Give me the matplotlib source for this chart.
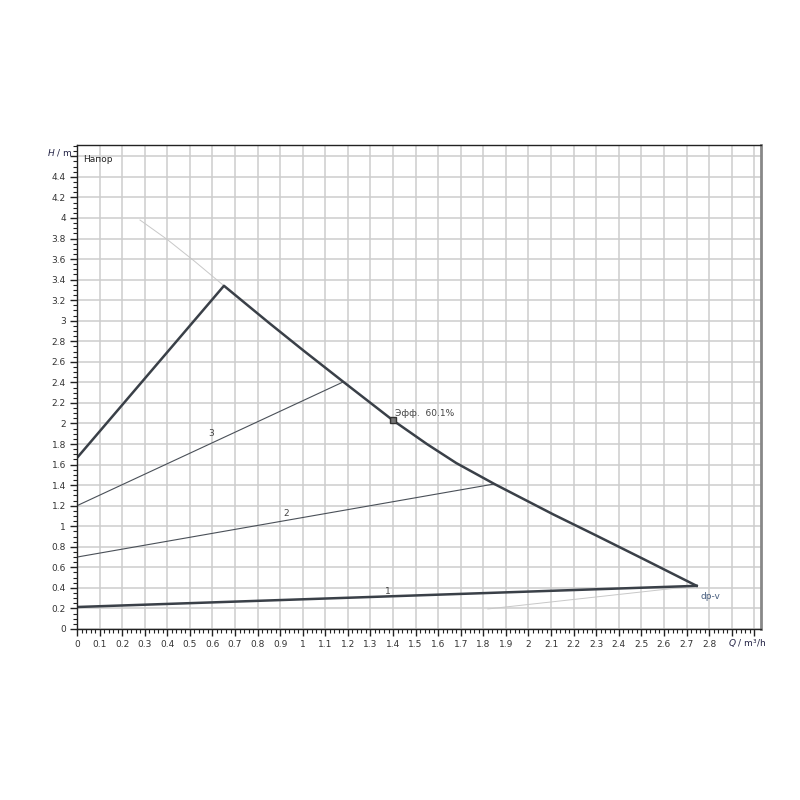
import matplotlib
matplotlib.use("Agg")
import matplotlib.pyplot as plt
import numpy as np

# max curve (thick outline)
max_q = [0.0, 0.651, 0.85, 1.003, 1.18, 1.40, 1.55, 1.68, 1.85, 2.11, 2.30, 2.51, 2.745]
max_h = [1.665, 3.34, 2.98, 2.71, 2.405, 2.03, 1.80, 1.615, 1.41, 1.115, 0.91, 0.68, 0.42]

# min curve 1 (thick)
c1_q = [0.0, 2.745]
c1_h = [0.214, 0.42]

# intermediate curves 2 and 3
c2_q = [0.0, 1.845]
c2_h = [0.70, 1.41]
c3_q = [0.0, 1.18]
c3_h = [1.20, 2.405]

# gray extension lines
ext_top_q = [0.279, 0.40, 0.52, 0.651]
ext_top_h = [3.98, 3.79, 3.58, 3.34]
ext_bot_q = [1.82, 2.745]
ext_bot_h = [0.195, 0.42]

eff_q, eff_h = 1.40, 2.03
eff_text = "Эфф.  60.1%"


def fmt(v):
    return "%g" % v


fig = plt.figure(figsize=(8, 8), dpi=100)
ax = fig.add_axes([77 / 800, 1 - 629 / 800, (761 - 77) / 800, (629 - 145) / 800])

ax.set_xlim(0, 3.03)
ax.set_ylim(0, 4.71)

# grid
ax.set_xticks(np.round(np.arange(0, 3.01, 0.1), 1))
ax.set_yticks(np.round(np.arange(0, 4.61, 0.2), 1))
ax.grid(True, color="#cdcdcd", linewidth=1.1)
ax.set_axisbelow(True)

ax.set_xticklabels([fmt(v) if v <= 2.8 else "" for v in ax.get_xticks()])
ax.set_yticklabels([fmt(v) if v <= 4.4 else "" for v in ax.get_yticks()])
ax.set_xticks(np.arange(0, 3.02, 0.02), minor=True)
ax.set_yticks(np.arange(0, 4.71, 0.05), minor=True)
ax.tick_params(which="major", direction="out", length=5, width=1, color="#222222",
               labelsize=6.5, labelcolor="#333333", pad=3)
ax.tick_params(which="minor", direction="out", length=3, width=0.8, color="#222222")

for s in ["left", "bottom", "top"]:
    ax.spines[s].set_color("#222222")
    ax.spines[s].set_linewidth(1.0)
ax.spines["right"].set_color("#888888")
ax.spines["right"].set_linewidth(2.0)

line_c = "#3a4048"
ax.plot(ext_top_q, ext_top_h, color="#c8c8c8", linewidth=0.7)
ax.plot(ext_bot_q, ext_bot_h, color="#c8c8c8", linewidth=0.7)
ax.plot(c3_q, c3_h, color="#4a5058", linewidth=0.8)
ax.plot(c2_q, c2_h, color="#4a5058", linewidth=0.8)
ax.plot(max_q, max_h, color=line_c, linewidth=1.8, solid_joinstyle="round")
ax.plot(c1_q, c1_h, color=line_c, linewidth=1.8)

ax.plot([eff_q], [eff_h], marker="s", markersize=5, markerfacecolor="#777777",
        markeredgecolor="#333333", markeredgewidth=1)
ax.text(eff_q + 0.01, eff_h + 0.04, eff_text, fontsize=6.5, color="#444444")

ax.text(0.594, 1.86, "3", fontsize=6.5, color="#444444", ha="center", va="bottom")
ax.text(0.926, 1.08, "2", fontsize=6.5, color="#444444", ha="center", va="bottom")
ax.text(1.378, 0.32, "1", fontsize=6.5, color="#444444", ha="center", va="bottom")
ax.text(2.76, 0.36, "dp-v", fontsize=6.5, color="#4a6080", ha="left", va="top")

ax.text(0.025, 4.57, "Напор", fontsize=6.5, color="#222222", va="center")

fig.text(47 / 800, 1 - 153 / 800, "$H$ / m", fontsize=6.5, color="#222244", va="center")
fig.text(728 / 800, 1 - 643 / 800, "$Q$ / m³/h", fontsize=6.5, color="#222244", va="center")

fig.savefig("out.png", dpi=100)
